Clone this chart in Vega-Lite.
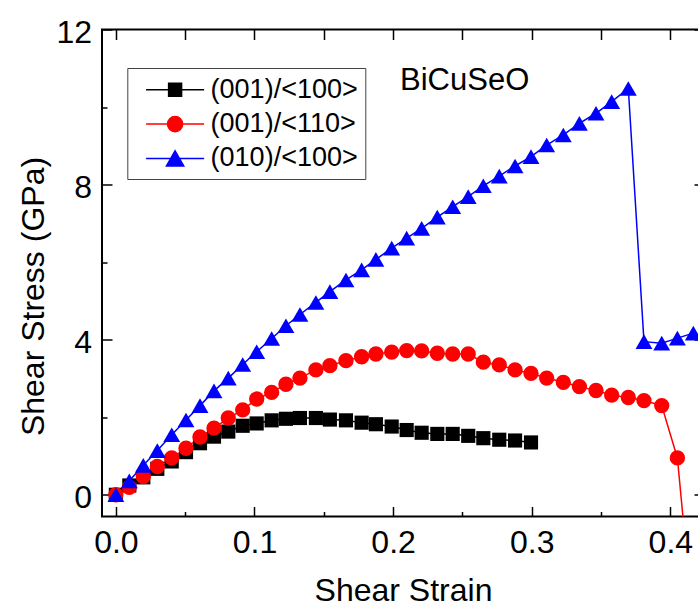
{
  "$schema": "https://vega.github.io/schema/vega-lite/v6.json",
  "width": 602,
  "height": 487,
  "autosize": {"type": "none"},
  "padding": {"left": 102, "top": 29.5, "right": -6, "bottom": 91.5},
  "background": "white",
  "config": {
    "font": "Liberation Sans",
    "view": {"stroke": "black", "strokeWidth": 2},
    "axis": {"domain": false, "grid": false, "tickColor": "black", "tickWidth": 1.5, "labelColor": "black", "titleColor": "black", "labelFont": "Liberation Sans", "titleFont": "Liberation Sans", "labelFontSize": 32, "titleFontSize": 32, "titleFontWeight": "normal", "labelFlush": false}
  },
  "datasets": {
    "curves": [
      {"series": "(001)/<100>", "strain": 0, "stress": 0},
      {"series": "(001)/<100>", "strain": 0.0097, "stress": 0.24},
      {"series": "(001)/<100>", "strain": 0.0198, "stress": 0.45},
      {"series": "(001)/<100>", "strain": 0.0299, "stress": 0.67},
      {"series": "(001)/<100>", "strain": 0.0403, "stress": 0.86},
      {"series": "(001)/<100>", "strain": 0.0506, "stress": 1.10},
      {"series": "(001)/<100>", "strain": 0.0607, "stress": 1.33},
      {"series": "(001)/<100>", "strain": 0.0708, "stress": 1.50},
      {"series": "(001)/<100>", "strain": 0.0811, "stress": 1.63},
      {"series": "(001)/<100>", "strain": 0.0915, "stress": 1.78},
      {"series": "(001)/<100>", "strain": 0.1016, "stress": 1.84},
      {"series": "(001)/<100>", "strain": 0.1124, "stress": 1.92},
      {"series": "(001)/<100>", "strain": 0.1227, "stress": 1.96},
      {"series": "(001)/<100>", "strain": 0.1328, "stress": 1.98},
      {"series": "(001)/<100>", "strain": 0.1443, "stress": 1.98},
      {"series": "(001)/<100>", "strain": 0.1544, "stress": 1.94},
      {"series": "(001)/<100>", "strain": 0.1660, "stress": 1.92},
      {"series": "(001)/<100>", "strain": 0.1773, "stress": 1.86},
      {"series": "(001)/<100>", "strain": 0.1876, "stress": 1.82},
      {"series": "(001)/<100>", "strain": 0.1990, "stress": 1.76},
      {"series": "(001)/<100>", "strain": 0.2098, "stress": 1.67},
      {"series": "(001)/<100>", "strain": 0.2206, "stress": 1.60},
      {"series": "(001)/<100>", "strain": 0.2319, "stress": 1.57},
      {"series": "(001)/<100>", "strain": 0.2430, "stress": 1.57},
      {"series": "(001)/<100>", "strain": 0.2542, "stress": 1.52},
      {"series": "(001)/<100>", "strain": 0.2651, "stress": 1.46},
      {"series": "(001)/<100>", "strain": 0.2766, "stress": 1.42},
      {"series": "(001)/<100>", "strain": 0.2880, "stress": 1.40},
      {"series": "(001)/<100>", "strain": 0.2995, "stress": 1.35},
      {"series": "(001)/<110>", "strain": 0, "stress": 0},
      {"series": "(001)/<110>", "strain": 0.0097, "stress": 0.19},
      {"series": "(001)/<110>", "strain": 0.0198, "stress": 0.47},
      {"series": "(001)/<110>", "strain": 0.0299, "stress": 0.73},
      {"series": "(001)/<110>", "strain": 0.0403, "stress": 0.95},
      {"series": "(001)/<110>", "strain": 0.0506, "stress": 1.20},
      {"series": "(001)/<110>", "strain": 0.0607, "stress": 1.49},
      {"series": "(001)/<110>", "strain": 0.0708, "stress": 1.72},
      {"series": "(001)/<110>", "strain": 0.0811, "stress": 1.98},
      {"series": "(001)/<110>", "strain": 0.0915, "stress": 2.19},
      {"series": "(001)/<110>", "strain": 0.1016, "stress": 2.47},
      {"series": "(001)/<110>", "strain": 0.1124, "stress": 2.64},
      {"series": "(001)/<110>", "strain": 0.1227, "stress": 2.85},
      {"series": "(001)/<110>", "strain": 0.1328, "stress": 3.01},
      {"series": "(001)/<110>", "strain": 0.1443, "stress": 3.22},
      {"series": "(001)/<110>", "strain": 0.1544, "stress": 3.33},
      {"series": "(001)/<110>", "strain": 0.1660, "stress": 3.46},
      {"series": "(001)/<110>", "strain": 0.1773, "stress": 3.56},
      {"series": "(001)/<110>", "strain": 0.1876, "stress": 3.63},
      {"series": "(001)/<110>", "strain": 0.1990, "stress": 3.68},
      {"series": "(001)/<110>", "strain": 0.2098, "stress": 3.72},
      {"series": "(001)/<110>", "strain": 0.2206, "stress": 3.71},
      {"series": "(001)/<110>", "strain": 0.2319, "stress": 3.65},
      {"series": "(001)/<110>", "strain": 0.2430, "stress": 3.63},
      {"series": "(001)/<110>", "strain": 0.2542, "stress": 3.63},
      {"series": "(001)/<110>", "strain": 0.2651, "stress": 3.42},
      {"series": "(001)/<110>", "strain": 0.2766, "stress": 3.35},
      {"series": "(001)/<110>", "strain": 0.2880, "stress": 3.22},
      {"series": "(001)/<110>", "strain": 0.2995, "stress": 3.13},
      {"series": "(001)/<110>", "strain": 0.3108, "stress": 3.01},
      {"series": "(001)/<110>", "strain": 0.3228, "stress": 2.90},
      {"series": "(001)/<110>", "strain": 0.3344, "stress": 2.79},
      {"series": "(001)/<110>", "strain": 0.3464, "stress": 2.69},
      {"series": "(001)/<110>", "strain": 0.3577, "stress": 2.57},
      {"series": "(001)/<110>", "strain": 0.3697, "stress": 2.51},
      {"series": "(001)/<110>", "strain": 0.3810, "stress": 2.43},
      {"series": "(001)/<110>", "strain": 0.3938, "stress": 2.30},
      {"series": "(001)/<110>", "strain": 0.4051, "stress": 0.95},
      {"series": "(001)/<110>", "strain": 0.4166, "stress": -3.4},
      {"series": "(010)/<100>", "strain": 0, "stress": 0},
      {"series": "(010)/<100>", "strain": 0.0097, "stress": 0.36},
      {"series": "(010)/<100>", "strain": 0.0198, "stress": 0.76},
      {"series": "(010)/<100>", "strain": 0.0299, "stress": 1.14},
      {"series": "(010)/<100>", "strain": 0.0403, "stress": 1.55},
      {"series": "(010)/<100>", "strain": 0.0506, "stress": 1.93},
      {"series": "(010)/<100>", "strain": 0.0607, "stress": 2.30},
      {"series": "(010)/<100>", "strain": 0.0708, "stress": 2.68},
      {"series": "(010)/<100>", "strain": 0.0811, "stress": 3.01},
      {"series": "(010)/<100>", "strain": 0.0915, "stress": 3.36},
      {"series": "(010)/<100>", "strain": 0.1016, "stress": 3.69},
      {"series": "(010)/<100>", "strain": 0.1124, "stress": 4.03},
      {"series": "(010)/<100>", "strain": 0.1227, "stress": 4.36},
      {"series": "(010)/<100>", "strain": 0.1328, "stress": 4.65},
      {"series": "(010)/<100>", "strain": 0.1443, "stress": 4.96},
      {"series": "(010)/<100>", "strain": 0.1544, "stress": 5.24},
      {"series": "(010)/<100>", "strain": 0.1660, "stress": 5.54},
      {"series": "(010)/<100>", "strain": 0.1773, "stress": 5.80},
      {"series": "(010)/<100>", "strain": 0.1876, "stress": 6.07},
      {"series": "(010)/<100>", "strain": 0.1990, "stress": 6.36},
      {"series": "(010)/<100>", "strain": 0.2098, "stress": 6.62},
      {"series": "(010)/<100>", "strain": 0.2206, "stress": 6.87},
      {"series": "(010)/<100>", "strain": 0.2319, "stress": 7.16},
      {"series": "(010)/<100>", "strain": 0.2430, "stress": 7.43},
      {"series": "(010)/<100>", "strain": 0.2542, "stress": 7.69},
      {"series": "(010)/<100>", "strain": 0.2651, "stress": 7.97},
      {"series": "(010)/<100>", "strain": 0.2766, "stress": 8.22},
      {"series": "(010)/<100>", "strain": 0.2880, "stress": 8.48},
      {"series": "(010)/<100>", "strain": 0.2995, "stress": 8.72},
      {"series": "(010)/<100>", "strain": 0.3108, "stress": 9.02},
      {"series": "(010)/<100>", "strain": 0.3228, "stress": 9.28},
      {"series": "(010)/<100>", "strain": 0.3344, "stress": 9.58},
      {"series": "(010)/<100>", "strain": 0.3464, "stress": 9.84},
      {"series": "(010)/<100>", "strain": 0.3577, "stress": 10.14},
      {"series": "(010)/<100>", "strain": 0.3697, "stress": 10.48},
      {"series": "(010)/<100>", "strain": 0.3810, "stress": 3.95},
      {"series": "(010)/<100>", "strain": 0.3938, "stress": 3.91},
      {"series": "(010)/<100>", "strain": 0.4051, "stress": 4.04},
      {"series": "(010)/<100>", "strain": 0.4166, "stress": 4.17}
    ],
    "note": [
      {"strain": 0.205, "stress": 10.44, "label": "BiCuSeO"}
    ],
    "keys": [
      {"series": "(001)/<100>"},
      {"series": "(001)/<110>"},
      {"series": "(010)/<100>"}
    ]
  },
  "layer": [
    {
      "data": {"name": "curves"},
      "mark": {"type": "line", "strokeWidth": 1.5, "clip": true},
      "encoding": {
        "x": {"field": "strain", "type": "quantitative", "scale": {"domain": [-0.01, 0.4243], "nice": false, "zero": false},
              "axis": {"orient": "bottom", "values": [0, 0.1, 0.2, 0.3, 0.4], "format": ".1f", "tickSize": -10, "labelPadding": 21, "title": "Shear Strain", "titlePadding": 17}},
        "y": {"field": "stress", "type": "quantitative", "scale": {"domain": [-0.56, 12], "nice": false, "zero": false},
              "axis": {"orient": "left", "values": [0, 4, 8, 12], "tickSize": -10, "labelPadding": 20.5, "labelOffset": 3, "title": "Shear Stress (GPa)", "titleX": -59, "titleY": 266.5, "titleBaseline": "alphabetic", "titleAlign": "center", "titleAngle": -90}},
        "color": {"field": "series", "type": "nominal", "scale": {"range": ["#000000", "#ff0000", "#0000ff"]}, "legend": null},
        "order": {"field": "strain", "type": "quantitative"}
      }
    },
    {
      "data": {"name": "curves"},
      "transform": [{"filter": "datum.series === '(001)/<100>'"}],
      "mark": {"type": "point", "shape": "square", "filled": true, "opacity": 1, "color": "#000000", "size": 200, "clip": true},
      "encoding": {
        "x": {"field": "strain", "type": "quantitative", "scale": {"domain": [-0.01, 0.4243], "nice": false, "zero": false}, "axis": null},
        "y": {"field": "stress", "type": "quantitative", "scale": {"domain": [-0.56, 12], "nice": false, "zero": false}, "axis": null}
      }
    },
    {
      "data": {"name": "curves"},
      "transform": [{"filter": "datum.series === '(001)/<110>'"}],
      "mark": {"type": "point", "shape": "circle", "filled": true, "opacity": 1, "color": "#ff0000", "size": 235, "clip": true},
      "encoding": {
        "x": {"field": "strain", "type": "quantitative", "scale": {"domain": [-0.01, 0.4243], "nice": false, "zero": false}, "axis": null},
        "y": {"field": "stress", "type": "quantitative", "scale": {"domain": [-0.56, 12], "nice": false, "zero": false}, "axis": null}
      }
    },
    {
      "data": {"name": "curves"},
      "transform": [{"filter": "datum.series === '(010)/<100>'"}],
      "mark": {"type": "point", "shape": "triangle-up", "filled": true, "opacity": 1, "color": "#0000ff", "size": 285, "clip": true},
      "encoding": {
        "x": {"field": "strain", "type": "quantitative", "scale": {"domain": [-0.01, 0.4243], "nice": false, "zero": false}, "axis": null},
        "y": {"field": "stress", "type": "quantitative", "scale": {"domain": [-0.56, 12], "nice": false, "zero": false}, "axis": null}
      }
    },
    {
      "data": {"name": "note"},
      "mark": {"type": "text", "align": "left", "baseline": "alphabetic", "fontSize": 31, "font": "Liberation Sans", "color": "black"},
      "encoding": {
        "x": {"field": "strain", "type": "quantitative", "scale": {"domain": [-0.01, 0.4243], "nice": false, "zero": false},
              "axis": {"orient": "bottom", "values": [0.05, 0.15, 0.25, 0.35], "tickSize": -5, "labels": false, "title": null}},
        "y": {"field": "stress", "type": "quantitative", "scale": {"domain": [-0.56, 12], "nice": false, "zero": false},
              "axis": {"orient": "left", "values": [2, 6, 10], "tickSize": -5, "labels": false, "title": null}},
        "text": {"field": "label"}
      }
    },
    {
      "data": {"name": "note"},
      "mark": {"type": "point", "opacity": 0},
      "encoding": {
        "x": {"field": "strain", "type": "quantitative", "scale": {"domain": [-0.01, 0.4243], "nice": false, "zero": false},
              "axis": {"orient": "top", "values": [0, 0.05, 0.1, 0.15, 0.2, 0.25, 0.3, 0.35, 0.4], "tickSize": -10, "labels": false, "title": null}},
        "y": {"field": "stress", "type": "quantitative", "scale": {"domain": [-0.56, 12], "nice": false, "zero": false},
              "axis": {"orient": "right", "values": [0, 4, 8, 12], "tickSize": -10, "labels": false, "title": null}}
      }
    },
    {
      "data": {"name": "note"},
      "mark": {"type": "point", "opacity": 0},
      "encoding": {
        "y": {"field": "stress", "type": "quantitative", "scale": {"domain": [-0.56, 12], "nice": false, "zero": false},
              "axis": {"orient": "right", "values": [2, 6, 10], "tickSize": -5, "labels": false, "title": null}}
      }
    },
    {
      "data": {"name": "keys"},
      "mark": {"type": "point", "filled": true, "strokeWidth": 1.5, "opacity": 0},
      "encoding": {
        "fill": {"field": "series", "type": "nominal",
                 "scale": {"domain": ["(001)/<100>", "(001)/<110>", "(010)/<100>"], "range": ["#000000", "#ff0000", "#0000ff"]},
                 "legend": {"orient": "none", "legendX": 25.3, "legendY": 38.5, "title": null, "labelFontSize": 27, "labelFont": "Liberation Sans", "labelColor": "black", "labelOffset": 21, "labelLimit": 400, "symbolSize": 729, "symbolOffset": 26, "symbolStrokeWidth": 1.5, "symbolOpacity": 1, "rowPadding": 6.3, "padding": 7.3, "strokeColor": "#444444",
                            "encode": {"symbols": {"update": {"fill": {"scale": "fill", "field": "value"}, "fillOpacity": {"value": 1}}}}}},
        "stroke": {"field": "series", "type": "nominal",
                   "scale": {"domain": ["(001)/<100>", "(001)/<110>", "(010)/<100>"], "range": ["#000000", "#ff0000", "#0000ff"]}},
        "shape": {"field": "series", "type": "nominal",
                  "scale": {"domain": ["(001)/<100>", "(001)/<110>", "(010)/<100>"],
                            "range": ["M-2.15,0H2.15M-0.48,-0.48H0.48V0.48H-0.48Z", "M-2.15,0H2.15M0.56,0A0.56,0.56,0,1,1,-0.56,0A0.56,0.56,0,1,1,0.56,0Z", "M-2.15,0H2.15M0,-0.56L0.64,0.56L-0.64,0.56Z"]}}
      }
    }
  ],
  "resolve": {"axis": {"x": "independent", "y": "independent"}}
}
